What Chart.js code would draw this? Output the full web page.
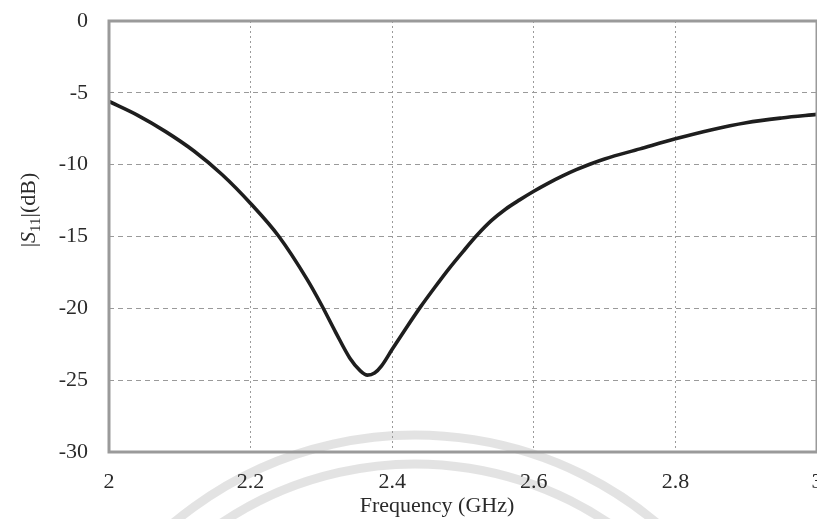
<!DOCTYPE html>
<html>
<head>
<meta charset="utf-8">
<script src="https://cdn.jsdelivr.net/npm/chart.js@4/dist/chart.umd.min.js"></script>
<style>
  html, body { margin: 0; padding: 0; background: #fff; overflow: hidden; }
  #wrap { width: 845px; height: 519px; }
</style>
</head>
<body>
<div id="wrap"><canvas id="c" width="845" height="519"></canvas></div>
<script>
// Return loss of the antenna, |S11| in dB versus frequency in GHz
const freqGHz = [2.00, 2.04, 2.08, 2.12, 2.16, 2.20, 2.24, 2.28, 2.30, 2.32, 2.34, 2.355, 2.365, 2.375, 2.385, 2.40, 2.42, 2.44, 2.46, 2.48, 2.50, 2.52, 2.54, 2.56, 2.58, 2.60, 2.62, 2.64, 2.66, 2.68, 2.70, 2.75, 2.80, 2.85, 2.90, 2.95, 3.00];
const s11dB   = [-5.6, -6.55, -7.7, -9.05, -10.7, -12.7, -15.0, -18.0, -19.75, -21.65, -23.45, -24.35, -24.65, -24.5, -24.0, -22.85, -21.35, -19.9, -18.55, -17.25, -16.05, -14.9, -13.9, -13.1, -12.45, -11.85, -11.3, -10.8, -10.35, -9.95, -9.6, -8.9, -8.2, -7.58, -7.08, -6.75, -6.5];

const xTickValues = [2, 2.2, 2.4, 2.6, 2.8, 3];
const yTickValues = [0, -5, -10, -15, -20, -25, -30];

const serif = '"Liberation Serif", "Times New Roman", serif';
const textColor = '#2a2a2a';

// faint circular seal printed behind the figure
const sealPlugin = {
  id: 'seal',
  beforeDraw(chart) {
    const ctx = chart.ctx;
    ctx.save();
    ctx.strokeStyle = 'rgba(0,0,0,0.11)';
    ctx.lineWidth = 9;
    [376, 347].forEach(r => {
      ctx.beginPath();
      ctx.arc(415, 811, r, Math.PI * 1.05, Math.PI * 1.95);
      ctx.stroke();
    });
    ctx.restore();
  }
};

// plot frame and axis titles
const framePlugin = {
  id: 'frame',
  afterDraw(chart) {
    const { ctx, chartArea: a } = chart;
    ctx.save();
    ctx.strokeStyle = '#9a9a9a';
    ctx.lineWidth = 3;
    ctx.strokeRect(a.left, a.top, a.right - a.left, a.bottom - a.top);

    ctx.fillStyle = textColor;
    // x title
    ctx.font = '22px ' + serif;
    ctx.textAlign = 'center';
    ctx.textBaseline = 'alphabetic';
    ctx.fillText('Frequency (GHz)', (a.left + a.right) / 2 - 26, 512);

    // y title: |S11|(dB) with italic S and subscript 11
    const parts = [
      { t: '|', f: '22px ' + serif, dy: 0 },
      { t: 'S', f: 'italic 22px ' + serif, dy: 0 },
      { t: '11', f: '15px ' + serif, dy: 5 },
      { t: '|(dB)', f: '22px ' + serif, dy: 0 }
    ];
    let total = 0;
    parts.forEach(p => { ctx.font = p.f; p.w = ctx.measureText(p.t).width; total += p.w; });
    ctx.translate(35, 210);
    ctx.rotate(-Math.PI / 2);
    ctx.textAlign = 'left';
    let x = -total / 2;
    parts.forEach(p => {
      ctx.font = p.f;
      ctx.fillText(p.t, x, p.dy);
      x += p.w;
    });
    ctx.restore();
  }
};

new Chart(document.getElementById('c'), {
  type: 'line',
  data: {
    datasets: [{
      data: freqGHz.map((f, i) => ({ x: f, y: s11dB[i] })),
      borderColor: '#1e1e1e',
      borderWidth: 3.6,
      pointRadius: 0,
      cubicInterpolationMode: 'monotone',
      fill: false
    }]
  },
  options: {
    responsive: false,
    animation: false,
    layout: { padding: { left: 0, top: 21, right: 28, bottom: 0 } },
    plugins: { legend: { display: false }, tooltip: { enabled: false } },
    scales: {
      x: {
        type: 'linear',
        min: 2, max: 3,
        afterFit(s) { s.height = 67; },
        afterBuildTicks(s) { s.ticks = xTickValues.map(v => ({ value: v })); },
        grid: { color: '#9a9a9a', lineWidth: 1, drawTicks: false },
        border: { display: false, dash: [2, 3] },
        ticks: {
          padding: 17,
          color: textColor,
          font: { family: serif, size: 22 },
          maxRotation: 0,
          callback: v => String(Number(v.toFixed(1)))
        }
      },
      y: {
        min: -30, max: 0,
        afterFit(s) { s.width = 109; s.paddingTop = 0; s.paddingBottom = 0; },
        afterBuildTicks(s) { s.ticks = yTickValues.map(v => ({ value: v })); },
        grid: { color: '#9a9a9a', lineWidth: 1, drawTicks: false },
        border: { display: false, dash: [5, 4] },
        ticks: {
          padding: 21,
          color: textColor,
          font: { family: serif, size: 22 },
          callback: v => String(v)
        }
      }
    }
  },
  plugins: [sealPlugin, framePlugin]
});
</script>
</body>
</html>
